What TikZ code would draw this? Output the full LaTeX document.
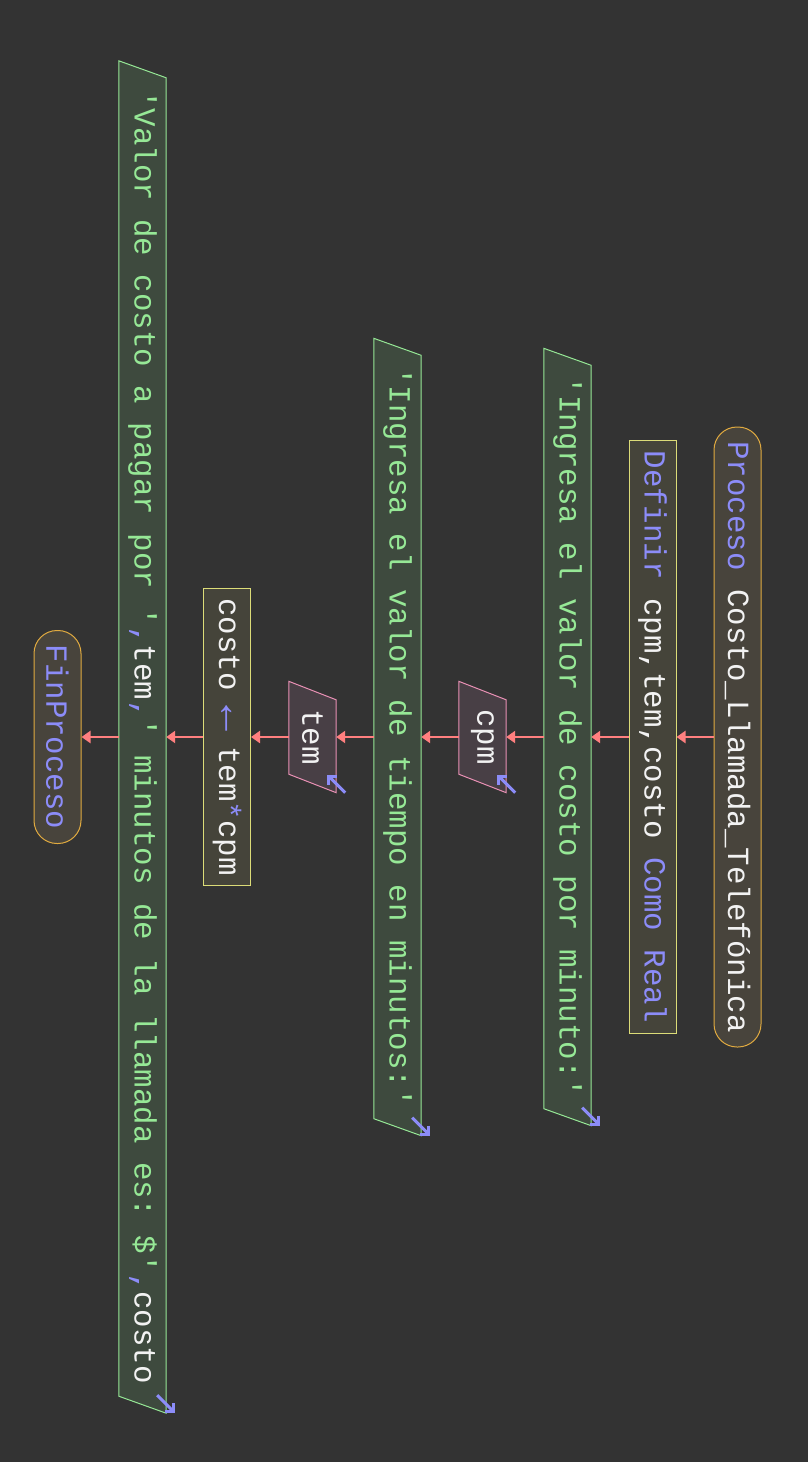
\documentclass[tikz,border=0pt]{standalone}
\usepackage{fontspec}
\setmonofont{Liberation Mono}
\usepackage{graphicx}
\usetikzlibrary{calc,arrows.meta,backgrounds}

\definecolor{fondo}{HTML}{333333}
\definecolor{blanco}{HTML}{F2F2F2}
\definecolor{azul}{HTML}{8C8CF8}
\definecolor{verde}{HTML}{96E896}
\definecolor{rojo}{HTML}{FF7F7F}
\definecolor{naranja}{HTML}{E0AA40}
\definecolor{amarillo}{HTML}{DCDC78}
\definecolor{rosa}{HTML}{E890B4}
\definecolor{fterm}{HTML}{48443C}
\definecolor{fdef}{HTML}{45443A}
\definecolor{fsal}{HTML}{3E4A3E}
\definecolor{fent}{HTML}{483F45}

\newcommand{\kw}[1]{\textcolor{azul}{#1}}
\newcommand{\cad}[1]{\textcolor{verde}{#1}}
% parallelogram round a node: style, node, skew
\newcommand{\paralelo}[3]{\draw[#1] (#2.north west) -- ($(#2.north east)+(0,#3)$) -- (#2.south east) -- ($(#2.south west)+(0,-#3)$) -- cycle;}

\tikzset{
  caja/.style={inner sep=0pt, minimum width=47pt, text=blanco,
    font=\ttfamily\fontsize{30.8}{36}\selectfont},
  terminal/.style={caja, draw=naranja, fill=fterm, line width=1pt, rounded corners=23pt},
  definicion/.style={caja, draw=amarillo, fill=fdef, line width=1pt},
  salida/.style={draw=verde, fill=fsal, line width=1pt},
  entrada/.style={draw=rosa, fill=fent, line width=1pt},
  flecha/.style={draw=rojo, line width=2.6pt, -{Triangle[length=9pt,width=12pt]}},
  icono/.style={draw=azul, line width=3pt, -{Straight Barb[length=6pt,width=12pt]}}
}

\begin{document}
\begin{tikzpicture}[x=1pt, y=-1pt]
  \begin{scope}[on background layer]
    \fill[fondo] (0,0) rectangle (808,1462);
  \end{scope}
  \useasboundingbox (0,0) rectangle (808,1462);

  %%%%% NODES %%%%%
  \node[terminal, minimum height=620pt] (proc) at (737.5,737)
    {\rotatebox{-90}{\kw{Proceso} Costo\_Llamada\_Telefónica}};
  \node[definicion, minimum height=593pt] (defi) at (652.5,737)
    {\rotatebox{-90}{\kw{Definir} cpm,tem,costo \kw{Como Real}}};
  \node[caja, minimum height=777pt] (sal1) at (567.5,737)
    {\rotatebox{-90}{\cad{'Ingresa el valor de costo por minuto:'}}};
  \node[caja, minimum height=111pt] (ent1) at (482.5,737)
    {\rotatebox{-90}{cpm}};
  \node[caja, minimum height=797pt] (sal2) at (397.5,737)
    {\rotatebox{-90}{\cad{'Ingresa el valor de tiempo en minutos:'}}};
  \node[caja, minimum height=111pt] (ent2) at (312.5,737)
    {\rotatebox{-90}{tem}};
  \node[definicion, minimum height=297pt] (asig) at (227,737)
    {\rotatebox{-90}{costo \kw{\makebox[0.6em]{\scalebox{1.4}{←}}} tem\kw{*}cpm}};
  \node[caja, minimum height=1352pt] (sal3) at (142.5,737)
    {\rotatebox{-90}{\cad{'Valor de costo a pagar por '}\kw{,}tem\kw{,}\cad{' minutos de la llamada es: \$'}\kw{,}costo}};
  \node[terminal, minimum height=213pt] (fin) at (57.5,737)
    {\rotatebox{-90}{\kw{FinProceso}}};

  %%%%% SHAPES %%%%%
  \begin{scope}[on background layer]
    \paralelo{salida}{sal1}{17}
    \paralelo{entrada}{ent1}{18.5}
    \paralelo{salida}{sal2}{17}
    \paralelo{entrada}{ent2}{18.5}
    \paralelo{salida}{sal3}{17}
  \end{scope}

  \draw[icono] ($(sal1.south east)+(-9,-18)$) -- ($(sal1.south east)+(9,0)$);
  \draw[icono] ($(sal2.south east)+(-9,-18)$) -- ($(sal2.south east)+(9,0)$);
  \draw[icono] ($(sal3.south east)+(-9,-18)$) -- ($(sal3.south east)+(9,0)$);
  \draw[icono] ($(ent1.south east)+(9,0)$) -- ($(ent1.south east)+(-9,-18)$);
  \draw[icono] ($(ent2.south east)+(9,0)$) -- ($(ent2.south east)+(-9,-18)$);

  %%%%% FLOW %%%%%
  \draw[flecha] (proc.west) -- (defi.east);
  \draw[flecha] (defi.west) -- (sal1.east);
  \draw[flecha] (sal1.west) -- (ent1.east);
  \draw[flecha] (ent1.west) -- (sal2.east);
  \draw[flecha] (sal2.west) -- (ent2.east);
  \draw[flecha] (ent2.west) -- (asig.east);
  \draw[flecha] (asig.west) -- (sal3.east);
  \draw[flecha] (sal3.west) -- (fin.east);
\end{tikzpicture}
\end{document}
